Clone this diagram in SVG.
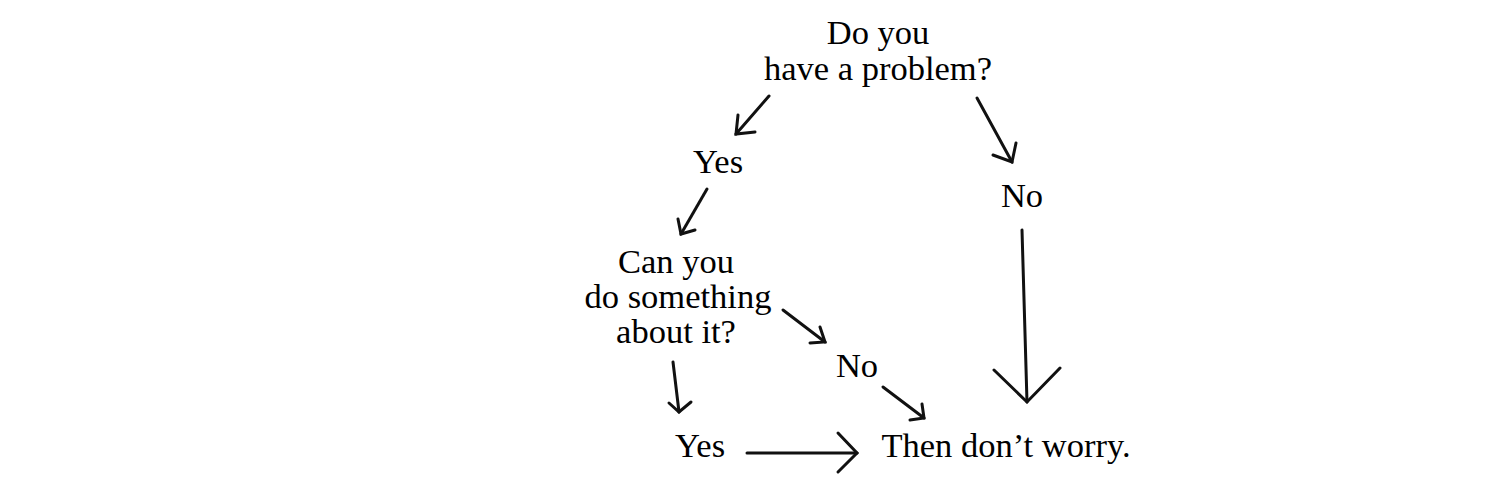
<svg xmlns="http://www.w3.org/2000/svg" width="1500" height="500" viewBox="0 0 1500 500">
<style>
text{font-family:"Liberation Serif","Times New Roman",serif;font-size:34.5px;fill:#000;text-anchor:middle}
.c line,.c polyline{stroke:#111;stroke-width:3;fill:none;stroke-linecap:round;stroke-linejoin:miter}
</style>
<rect width="1500" height="500" fill="#fff"/>
<g id="q1"><text x="878" y="44">Do you</text><text x="878" y="80">have a problem?</text></g>
<g id="yes1"><text x="718" y="173">Yes</text></g>
<g id="no1"><text x="1022" y="207">No</text></g>
<g id="q2"><text x="676" y="273">Can you</text><text x="678" y="308" font-size="35.5">do something</text><text x="676" y="343">about it?</text></g>
<g id="no2"><text x="857" y="377">No</text></g>
<g id="yes2"><text x="700" y="457">Yes</text></g>
<g id="end"><text x="1006" y="457">Then don’t worry.</text></g>
<g class="c" id="connectors">
<line x1="769" y1="96" x2="736" y2="134"/><polyline points="738,115 736,134 755,132"/>
<line x1="977" y1="98" x2="1012" y2="162"/><polyline points="1016,143 1012,162 993,155"/>
<line x1="707" y1="189" x2="681" y2="234"/><polyline points="678,219 681,234 695,230"/>
<line x1="1022" y1="230" x2="1027" y2="402"/><polyline points="994,370 1027,402 1060,368"/>
<line x1="783" y1="310" x2="825" y2="342"/><polyline points="820,327 825,342 810,343"/>
<line x1="673" y1="362" x2="679" y2="412"/><polyline points="669,403 679,412 691,402"/>
<line x1="883" y1="387" x2="924" y2="418"/><polyline points="922,404 924,418 910,420"/>
<line x1="747" y1="453" x2="857" y2="453"/><polyline points="838,433 857,453 838,472"/>
</g>
</svg>
